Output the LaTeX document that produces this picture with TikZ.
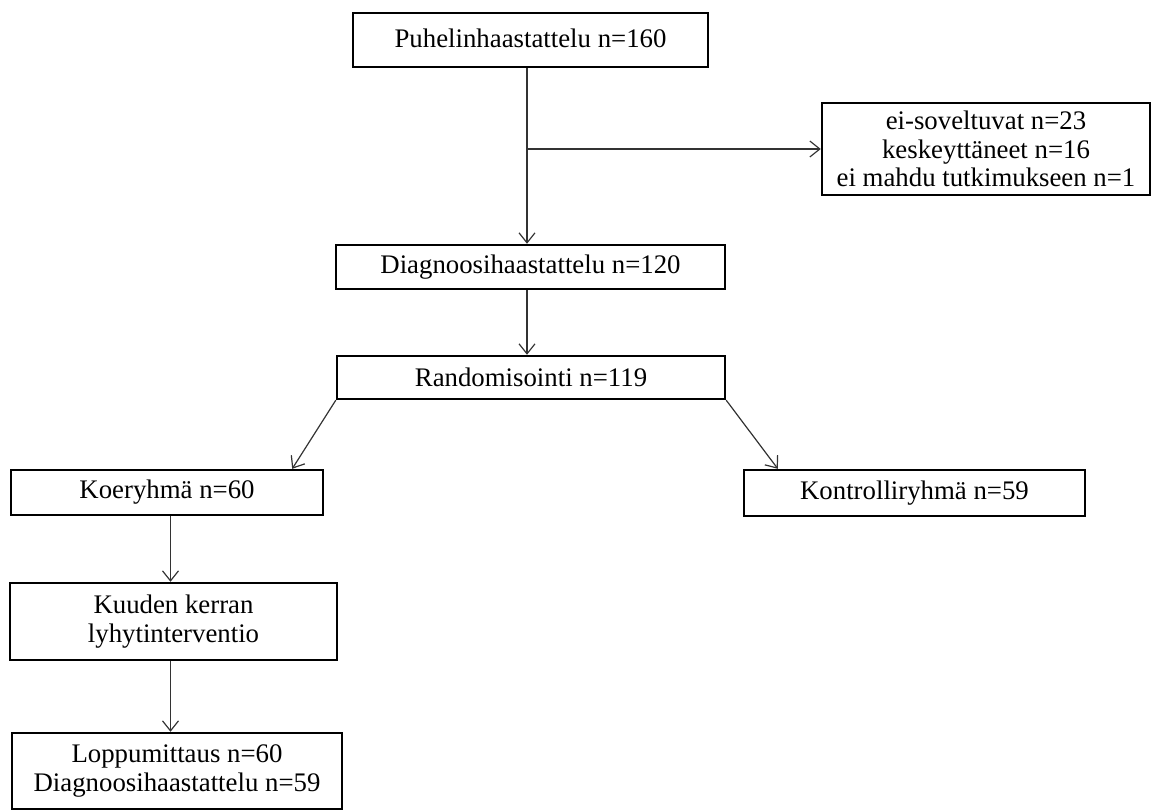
\documentclass[tikz,border=0pt]{standalone}
\usepackage{fontspec}
\setmainfont{Liberation Serif}
\usetikzlibrary{arrows.meta}
\tikzset{
  box/.style={
    draw,
    line width=1.2pt,
    inner sep=0pt,
    align=center,
    font=\fontsize{13.4}{14.2}\selectfont
  },
  conn/.style={
    draw=black!80,
    line width=0.6pt,
    -{Straight Barb[length=5pt,width=8pt]}
  },
}

\begin{document}
\begin{tikzpicture}[x=0.5pt,y=-0.5pt]
  \useasboundingbox (0,0) rectangle (1153,812);
  % boxes
  \node[box, minimum width=177.5pt, minimum height=27pt] (puhelin) at (530.5,40) {\raisebox{1.5pt}{Puhelinhaastattelu n=160}};
  \node[box, minimum width=164pt, minimum height=46pt] (pois) at (986,149) {ei-soveltuvat n=23\\keskeyttäneet n=16\\ei mahdu tutkimukseen n=1};
  \node[box, minimum width=194.5pt, minimum height=22pt] (diag) at (530.5,267) {Diagnoosihaastattelu n=120};
  \node[box, minimum width=194pt, minimum height=21.5pt] (rand) at (531,377.5) {Randomisointi n=119};
  \node[box, minimum width=156pt, minimum height=22.5pt] (koe) at (167,492.5) {Koeryhmä n=60};
  \node[box, minimum width=170.5pt, minimum height=23pt] (kontrolli) at (914.5,493) {Kontrolliryhmä n=59};
  \node[box, minimum width=163.5pt, minimum height=38.5pt] (kuuden) at (173.5,621.5) {Kuuden kerran\\lyhytinterventio};
  \node[box, minimum width=165pt, minimum height=38pt] (loppu) at (177,771) {Loppumittaus n=60\\Diagnoosihaastattelu n=59};
  % connectors
  \coordinate (haara) at ([xshift=-1.75pt]puhelin.south |- pois.west);
  \draw[conn] ([xshift=-1.75pt]puhelin.south) -- ([xshift=-1.75pt]diag.north);
  \draw[conn] (haara) -- (pois.west);
  \draw[conn] ([xshift=-1.75pt]diag.south) -- ([xshift=-1.75pt]diag.south |- rand.north);
  \draw[conn] (rand.south west) -- ([xshift=-16pt]koe.north east);
  \draw[conn] (rand.south east) -- ([xshift=17.5pt]kontrolli.north west);
  \draw[conn] ([xshift=-1.5pt]kuuden.north |- koe.south) -- ([xshift=-1.5pt]kuuden.north);
  \draw[conn] ([xshift=-1.5pt]kuuden.south) -- ([xshift=-1.5pt]kuuden.south |- loppu.north);
\end{tikzpicture}
\end{document}
